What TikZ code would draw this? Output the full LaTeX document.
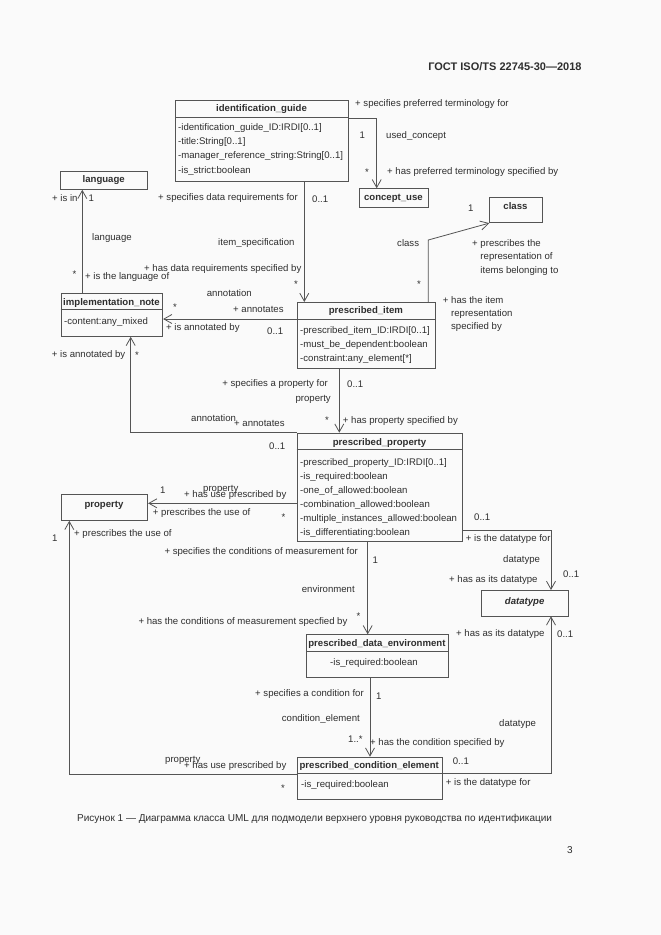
\documentclass[tikz,border=0pt]{standalone}
\usepackage{fontspec}
\setmainfont{Liberation Sans}
\usetikzlibrary{arrows.meta}
\definecolor{paper}{gray}{0.98}
\definecolor{linegray}{gray}{0.33}
\definecolor{textgray}{gray}{0.18}
\tikzset{
  cls/.style={draw=linegray, line width=0.8pt, anchor=north west, inner sep=0pt},
  ctitle/.style={inner sep=0pt, text=textgray, text height=7.7pt, text depth=1.9pt, font=\fontsize{9.6}{11}\selectfont\bfseries},
  attr/.style={anchor=north west, align=left, inner sep=0pt, text=textgray, font=\fontsize{9.6}{14.2}\selectfont},
  lbl/.style={anchor=west, inner sep=0pt, text=textgray, text height=7.7pt, text depth=1.9pt, font=\fontsize{9.6}{11}\selectfont},
  lbls/.style={anchor=north west, align=left, inner sep=0pt, text=textgray, font=\fontsize{9.6}{13.4}\selectfont},
  assoc/.style={draw=linegray, line width=0.8pt, ->},
}

\begin{document}
\begin{tikzpicture}[x=1pt,y=-1pt,>={Straight Barb[length=8pt,width=9pt]}]
\fill[paper] (0,0) rectangle (661,935);
\useasboundingbox (0,0) rectangle (661,935);
\node[anchor=base east, inner sep=0pt, text=textgray, font=\fontsize{11}{13}\selectfont\bfseries] (gost) at (581.7,70.7) {ГОСТ ISO/TS 22745-30—2018};

% class boxes
\node[cls, minimum width=173pt, minimum height=81pt] (idguide) at (175,100) {};
\node[cls, minimum width=87.3pt, minimum height=18pt] (language) at (60,171) {};
\node[cls, minimum width=68.7pt, minimum height=19pt] (concept) at (359,188.3) {};
\node[cls, minimum width=52.4pt, minimum height=25.6pt] (class) at (489.3,196.7) {};
\node[cls, minimum width=101.6pt, minimum height=43.3pt] (note) at (60.7,292.7) {};
\node[cls, minimum width=138.3pt, minimum height=65.7pt] (pitem) at (296.7,302) {};
\node[cls, minimum width=165.6pt, minimum height=108.3pt] (pprop) at (296.7,432.7) {};
\node[cls, minimum width=86.6pt, minimum height=25.7pt] (property) at (60.7,494.3) {};
\node[cls, minimum width=87.3pt, minimum height=25.5pt] (datatype) at (481,590) {};
\node[cls, minimum width=141.7pt, minimum height=42.4pt] (pde) at (306,634.3) {};
\node[cls, minimum width=145pt, minimum height=42.6pt] (pce) at (296.7,756.7) {};
\foreach \c in {idguide,note,pitem,pprop,pde,pce}
  \draw[linegray, line width=0.8pt] ([yshift=-17pt]\c.north west) -- ([yshift=-17pt]\c.north east);

% class names
\node[ctitle] (idguidet) at (261.5,109) {identification\_guide};
\node[ctitle] (languaget) at (103.7,180) {language};
\node[ctitle] (conceptt) at (393.4,197.3) {concept\_use};
\node[ctitle] (classt) at (515.5,206.5) {class};
\node[ctitle] (notet) at (111.5,302.7) {implementation\_note};
\node[ctitle] (pitemt) at (365.9,310.7) {prescribed\_item};
\node[ctitle] (ppropt) at (379.5,442.7) {prescribed\_property};
\node[ctitle] (propertyt) at (104,504.3) {property};
\node[ctitle, font=\fontsize{9.6}{11}\selectfont\bfseries\itshape] (datatypet) at (524.7,601.7) {datatype};
\node[ctitle] (pdet) at (376.9,643.3) {prescribed\_data\_environment};
\node[ctitle] (pcet) at (369.2,766) {prescribed\_condition\_element};

% attributes
\node[attr] (idguidea) at (178,123.4) {-identification\_guide\_ID:IRDI[0..1]\\-title:String[0..1]\\-manager\_reference\_string:String[0..1]\\-is\_strict:boolean};
\node[attr] (notea) at (64,317.7) {-content:any\_mixed};
\node[attr] (pitema) at (300,326.4) {-prescribed\_item\_ID:IRDI[0..1]\\-must\_be\_dependent:boolean\\-constraint:any\_element[*]};
\node[attr, font=\fontsize{9.6}{13.9}\selectfont] (ppropa) at (300,458.4) {-prescribed\_property\_ID:IRDI[0..1]\\-is\_required:boolean\\-one\_of\_allowed:boolean\\-combination\_allowed:boolean\\-multiple\_instances\_allowed:boolean\\-is\_differentiating:boolean};
\node[attr, anchor=north] (pdea) at (374,658.4) {-is\_required:boolean};
\node[attr] (pcea) at (301,780.7) {-is\_required:boolean};

% associations
\coordinate (spec) at (304.3,0);
\coordinate (used) at (376.7,118.3);
\coordinate (clsbend) at (428.3,240);
\coordinate (annot) at (0,319);
\coordinate (lang) at (82.3,0);
\coordinate (annotbend) at (130.7,432.7);
\coordinate (propspec) at (339.3,0);
\coordinate (propuse) at (0,503.3);
\coordinate (dtbend) at (551,530);
\coordinate (env) at (367.7,0);
\coordinate (cond) at (370,0);
\coordinate (dtbend2) at (551,773.3);
\coordinate (propbend) at (69.3,774.3);
\draw[assoc] (idguide.south -| spec) -- (pitem.north -| spec);
\draw[assoc] (idguide.east |- used) -- (used) -- (concept.north -| used);
\draw[assoc] (pitem.north -| clsbend) -- (clsbend) -- (class.south west);
\draw[assoc] (pitem.west |- annot) -- (note.east |- annot);
\draw[assoc] (note.north -| lang) -- (language.south -| lang);
\draw[assoc] (pprop.west |- annotbend) -- (annotbend) -- (note.south -| annotbend);
\draw[assoc] (pitem.south -| propspec) -- (pprop.north -| propspec);
\draw[assoc] (pprop.west |- propuse) -- (property.east |- propuse);
\draw[assoc] (pprop.east |- dtbend) -- (dtbend) -- (datatype.north -| dtbend);
\draw[assoc] (pprop.south -| env) -- (pde.north -| env);
\draw[assoc] (pde.south -| cond) -- (pce.north -| cond);
\draw[assoc] (pce.east |- dtbend2) -- (dtbend2) -- (datatype.south -| dtbend2);
\draw[assoc] (pce.west |- propbend) -- (propbend) -- (property.south -| propbend);

% role names and multiplicities
\node[lbl] (l1) at (355,104) {+ specifies preferred terminology for};
\node[lbl] (l2) at (359.5,136) {1};
\node[lbl] (l3) at (386,136) {used\_concept};
\node[lbl] (l4) at (365,173) {*};
\node[lbl] (l5) at (387,171.7) {+ has preferred terminology specified by};
\node[lbl] (l6) at (52,199) {+ is in};
\node[lbl] (l7) at (88.5,199) {1};
\node[lbl] (l8) at (92,237.7) {language};
\node[lbl] (l9) at (72.5,274.7) {*};
\node[lbl] (l10) at (85,276.7) {+ is the language of};
\node[lbl] (l11) at (158,198) {+ specifies data requirements for};
\node[lbl] (l12) at (312,200) {0..1};
\node[lbl] (l13) at (218,242.3) {item\_specification};
\node[lbl] (l14) at (144,269) {+ has data requirements specified by};
\node[lbl] (l15) at (294,284.7) {*};
\node[lbl] (l16) at (467.8,209) {1};
\node[lbl] (l17) at (397,243.3) {class};
\node[lbls] (l18) at (472,239.3) {+ prescribes the\\\hphantom{+ }representation of\\\hphantom{+ }items belonging to};
\node[lbl] (l19) at (417,284.7) {*};
\node[lbls] (l20) at (442.7,296) {+ has the item\\\hphantom{+ }representation\\\hphantom{+ }specified by};
\node[lbl] (l21) at (206.7,294) {annotation};
\node[lbl] (l22) at (173,308) {*};
\node[lbl] (l23) at (233,310) {+ annotates};
\node[lbl] (l24) at (166,327.7) {+ is annotated by};
\node[lbl] (l25) at (267,331.7) {0..1};
\node[lbl] (l26) at (51.7,355) {+ is annotated by};
\node[lbl] (l27) at (135,356) {*};
\node[lbl, anchor=east] (l28) at (328,384) {+ specifies a property for};
\node[lbl, anchor=east] (l29) at (331,398.3) {property};
\node[lbl] (l30) at (325,420.3) {*};
\node[lbl] (l31) at (347,385) {0..1};
\node[lbl] (l32) at (342.7,420.7) {+ has property specified by};
\node[lbl] (l33) at (191,418.3) {annotation};
\node[lbl] (l34) at (234,423.3) {+ annotates};
\node[lbl] (l35) at (269,446.7) {0..1};
\node[lbl] (l36) at (160,491) {1};
\node[lbl] (l37) at (203,488.3) {property};
\node[lbl] (l38) at (184,495) {+ has use prescribed by};
\node[lbl] (l39) at (152.7,512.3) {+ prescribes the use of};
\node[lbl] (l40) at (281.5,517.3) {*};
\node[lbl] (l41) at (474,517.7) {0..1};
\node[lbl] (l42) at (465.7,539) {+ is the datatype for};
\node[lbl] (l43) at (503,559.3) {datatype};
\node[lbl] (l44) at (449,579.3) {+ has as its datatype};
\node[lbl] (l45) at (563,574.3) {0..1};
\node[lbl] (l46) at (51.8,538.3) {1};
\node[lbl] (l47) at (74,533.3) {+ prescribes the use of};
\node[lbl] (l48) at (164.3,551.7) {+ specifies the conditions of measurement for};
\node[lbl] (l49) at (372.5,560.7) {1};
\node[lbl] (l50) at (301.7,590) {environment};
\node[lbl] (l51) at (356.5,617) {*};
\node[lbl] (l52) at (138.3,621.7) {+ has the conditions of measurement specfied by};
\node[lbl] (l53) at (456,633.3) {+ has as its datatype};
\node[lbl] (l54) at (557,634.3) {0..1};
\node[lbl] (l55) at (255,694) {+ specifies a condition for};
\node[lbl] (l56) at (375.8,696.7) {1};
\node[lbl] (l57) at (281.7,718.3) {condition\_element};
\node[lbl] (l58) at (499,723.3) {datatype};
\node[lbl] (l59) at (348,739.3) {1..*};
\node[lbl] (l60) at (370,742.7) {+ has the condition specified by};
\node[lbl] (l61) at (452.7,761.7) {0..1};
\node[lbl] (l62) at (445.7,782.7) {+ is the datatype for};
\node[lbl] (l63) at (165,759.3) {property};
\node[lbl] (l64) at (184,766) {+ has use prescribed by};
\node[lbl] (l65) at (281,789) {*};

% caption
\node[anchor=base west, inner sep=0pt, text=textgray, font=\fontsize{10}{12}\selectfont] (caption) at (77,821.5) {Рисунок 1 — Диаграмма класса UML для подмодели верхнего уровня руководства по идентификации};
\node[anchor=base west, inner sep=0pt, text=textgray, font=\fontsize{10}{12}\selectfont] (pageno) at (567,853) {3};
\end{tikzpicture}
\end{document}
